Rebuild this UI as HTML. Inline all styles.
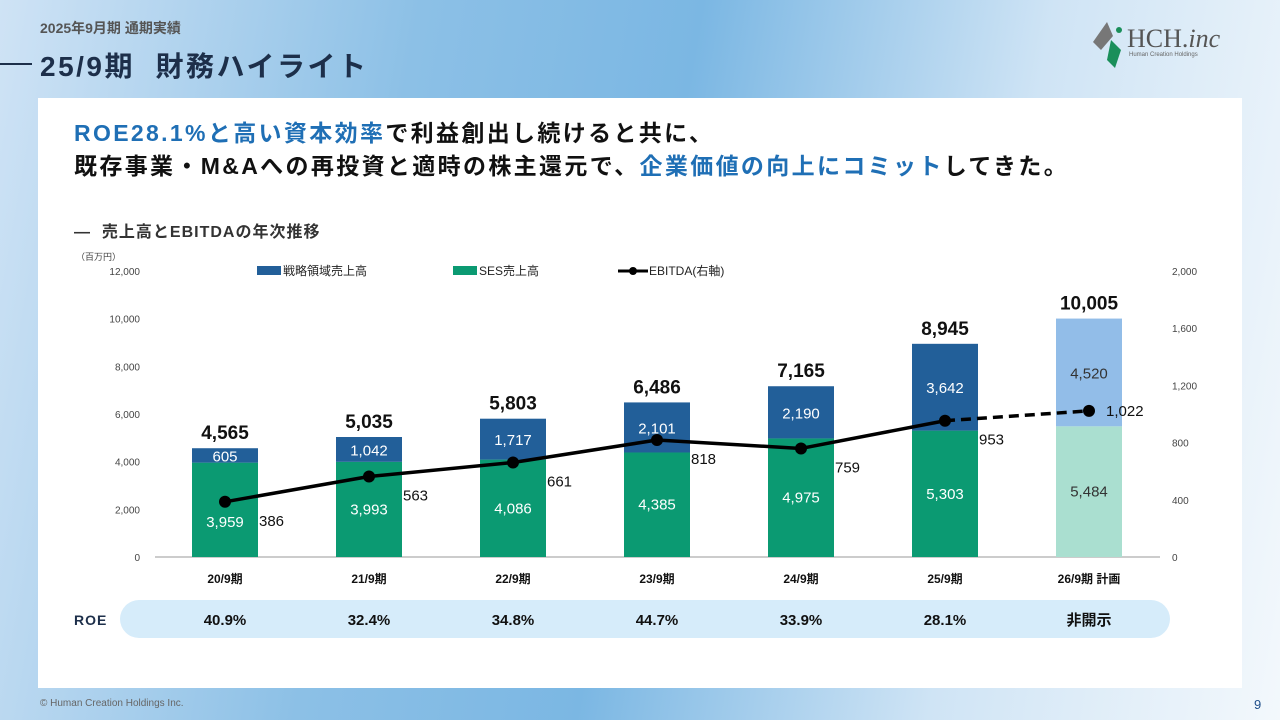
<!DOCTYPE html>
<html><head><meta charset="utf-8"><style>
body{margin:0;width:1280px;height:720px;overflow:hidden;font-family:"Liberation Sans","Noto Sans CJK JP",sans-serif;background:linear-gradient(100deg,#cfe3f5 0%,#8cc0e6 30%,#7bb7e3 50%,#cfe4f5 75%,#f3f8fc 100%);position:relative}
.abs{position:absolute}
</style></head><body>
<div class="abs" style="left:40px;top:18px;font-size:14px;font-weight:bold;color:#555">2025年9月期 通期実績</div>
<div class="abs" style="left:0;top:63px;width:32px;height:2px;background:#1d2f4a"></div>
<div class="abs" style="left:40px;top:45px;font-size:28px;font-weight:bold;color:#1d2f4a;letter-spacing:2.5px">25/9期&nbsp; 財務ハイライト</div>
<div class="abs" style="left:1093px;top:22px;width:150px;height:48px">
<svg width="150" height="48"><polygon points="0,20 14,0 20,14 8,28" fill="#777"/><polygon points="18,18 28,28 22,46 14,38" fill="#1a8f5a"/><circle cx="26" cy="8" r="3" fill="#1a8f5a"/></svg>
<div class="abs" style="left:34px;top:2px;font-size:26px;color:#555;font-family:'Liberation Serif',serif">HCH.<i>inc</i></div>
<div class="abs" style="left:36px;top:30px;font-size:6px;color:#666">Human Creation Holdings</div></div>
<div class="abs" style="left:38px;top:98px;width:1204px;height:590px;background:#fff"></div>
<div class="abs" style="left:74px;top:117px;font-size:23px;font-weight:bold;line-height:33px;color:#111;letter-spacing:2.35px"><span style="color:#1f6fb5">ROE28.1%と高い資本効率</span>で利益創出し続けると共に、<br>既存事業・M&amp;Aへの再投資と適時の株主還元で、<span style="color:#1f6fb5">企業価値の向上にコミット</span>してきた。</div>
<div class="abs" style="left:74px;top:218px;font-size:16px;font-weight:bold;color:#333;letter-spacing:1px">―&nbsp; 売上高とEBITDAの年次推移</div>
<svg class="abs" id="chart" style="left:0;top:0" width="1280" height="720" font-family="Liberation Sans, Noto Sans CJK JP, sans-serif"></svg>
<div class="abs" style="left:40px;top:698px;font-size:10px;color:#666">© Human Creation Holdings Inc.</div>
<div class="abs" style="left:1254px;top:697px;font-size:13px;color:#1f4e8a">9</div>
<script>
const categories=["20/9期","21/9期","22/9期","23/9期","24/9期","25/9期","26/9期 計画"];
const sesValues=[3959,3993,4086,4385,4975,5303,5484];
const stratValues=[605,1042,1717,2101,2190,3642,4520];
const totals=[4565,5035,5803,6486,7165,8945,10005];
const ebitda=[386,563,661,818,759,953,1022];
const roe=["40.9%","32.4%","34.8%","44.7%","33.9%","28.1%","非開示"];
const leftTicks=[0,2000,4000,6000,8000,10000,12000];
const rightTicks=[0,400,800,1200,1600,2000];
const NS="http://www.w3.org/2000/svg",svg=document.getElementById('chart');
const y0=557,yTop=271,x0=225,step=144,bw=66;
const yL=v=>y0-(v/12000)*(y0-yTop), yR=v=>y0-(v/2000)*(y0-yTop), xc=i=>x0+i*step;
const fmt=v=>v.toLocaleString('en-US');
function el(t,a,txt){const e=document.createElementNS(NS,t);for(const k in a)e.setAttribute(k,a[k]);if(txt!==undefined)e.textContent=txt;svg.appendChild(e);return e;}
let e;
e=el('text',{x:76,y:260,'font-size':9,fill:'#444'},'（百万円）');

leftTicks.forEach(v=>{e=el('text',{x:140,y:yL(v)+4,'font-size':10,fill:'#444','text-anchor':'end'},fmt(v));
});
rightTicks.forEach(v=>{e=el('text',{x:1172,y:yR(v)+4,'font-size':10,fill:'#444'},fmt(v));
});
e=el('line',{x1:155,x2:1160,y1:y0,y2:y0,stroke:'#999','stroke-width':1});

categories.forEach((c,i)=>{
const plan=i===6,x=xc(i)-bw/2;
const yS=yL(sesValues[i]),yT=yL(sesValues[i]+stratValues[i]);
e=el('rect',{x:x,y:yS,width:bw,height:y0-yS,fill:plan?'#aadfd0':'#0b9a72'});

e=el('rect',{x:x,y:yT,width:bw,height:yS-yT,fill:plan?'#92bde8':'#225f99'});

const tc=plan?'#333':'#fff';
e=el('text',{x:xc(i),y:(yS+y0)/2+5+(i===0?12:0),'font-size':15,fill:tc,'text-anchor':'middle'},fmt(sesValues[i]));

e=el('text',{x:xc(i),y:(yT+yS)/2+6,'font-size':15,fill:tc,'text-anchor':'middle'},fmt(stratValues[i]));

e=el('text',{x:xc(i),y:yL(totals[i])-9,'font-size':19,'font-weight':'bold',fill:'#111','text-anchor':'middle'},fmt(totals[i]));

e=el('text',{x:xc(i),y:583,'font-size':12,'font-weight':'bold',fill:'#111','text-anchor':'middle'},c);

});
for(let i=0;i<ebitda.length-1;i++){
e=el('line',{x1:xc(i),y1:yR(ebitda[i]),x2:xc(i+1),y2:yR(ebitda[i+1]),stroke:'#000','stroke-width':3.5,'stroke-dasharray':i===5?'10,6':'none'});
}
ebitda.forEach((v,i)=>{
e=el('circle',{cx:xc(i),cy:yR(v),r:6,fill:'#000'});

const above=i===6;
e=el('text',{x:xc(i)+(above?17:34),y:yR(v)+(above?5:24),'font-size':15,fill:'#111'},fmt(v));

});
e=el('rect',{x:257,y:266,width:24,height:9,fill:'#225f99'});
e=el('text',{x:283,y:275,'font-size':12,fill:'#222'},'戦略領域売上高');
e=el('rect',{x:453,y:266,width:24,height:9,fill:'#0b9a72'});
e=el('text',{x:479,y:275,'font-size':12,fill:'#222'},'SES売上高');
e=el('line',{x1:618,x2:648,y1:271,y2:271,stroke:'#000','stroke-width':3});
e=el('circle',{cx:633,cy:271,r:4,fill:'#000'});
e=el('text',{x:649,y:275,'font-size':12,fill:'#222'},'EBITDA(右軸)');
e=el('rect',{x:120,y:600,width:1050,height:38,rx:19,fill:'#d6ecfa'});
e=el('text',{x:74,y:625,'font-size':14,'font-weight':'bold',fill:'#1d2f4a','letter-spacing':1},'ROE');
roe.forEach((r,i)=>{e=el('text',{x:xc(i),y:625,'font-size':15,'font-weight':'bold',fill:'#111','text-anchor':'middle'},r);
});
</script>
</body></html>
